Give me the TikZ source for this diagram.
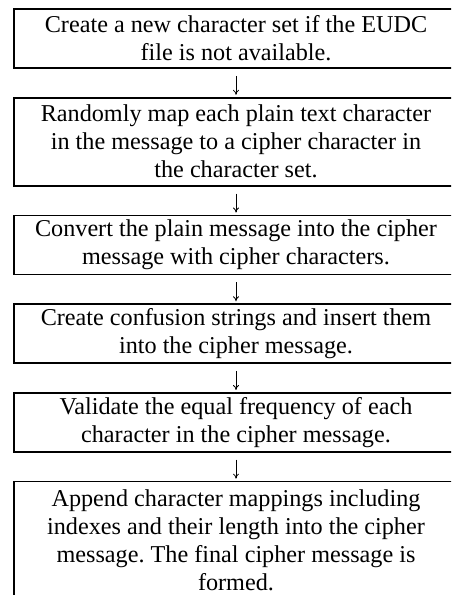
\documentclass[tikz,border=0pt]{standalone}
\usepackage{fontspec}
\setmainfont{Liberation Serif}
\usetikzlibrary{arrows.meta,positioning}
\frenchspacing

\begin{document}
\begin{tikzpicture}[x=1pt, y=1pt,
    stepbox/.style={draw, line width=1.7pt, minimum width=444pt, inner sep=0pt,
      align=center, font=\fontsize{24.2}{28}\selectfont},
    flow/.style={-{To[length=5pt,width=6pt]}, line width=0.8pt,
      shorten <=7pt, shorten >=2pt}]
  \useasboundingbox (0,0) rectangle (451,-595);
  \clip (0,0) rectangle (451,-595);
  % the six steps, top to bottom
  \node[stepbox, minimum height=59pt] (s1) at (236,-38.5)
    {Create a new character set if the EUDC\\file is not available.};
  \node[stepbox, minimum height=88pt, below=28pt of s1] (s2)
    {Randomly map each plain text character\\in the message to a cipher character in\\the character set.};
  \node[stepbox, minimum height=59pt, below=28pt of s2] (s3)
    {Convert the plain message into the cipher\\message with cipher characters.};
  \node[stepbox, minimum height=59pt, below=28pt of s3] (s4)
    {Create confusion strings and insert them\\into the cipher message.};
  \node[stepbox, minimum height=59pt, below=28pt of s4] (s5)
    {Validate the equal frequency of each\\character in the cipher message.};
  \node[stepbox, minimum height=118pt, below=28pt of s5] (s6)
    {Append character mappings including\\indexes and their length into the cipher\\message. The final cipher message is\\formed.};
  % arrows between the steps
  \foreach \a/\b in {s1/s2,s2/s3,s3/s4,s4/s5,s5/s6}
    \draw[flow] (\a) -- (\b);
\end{tikzpicture}
\end{document}
